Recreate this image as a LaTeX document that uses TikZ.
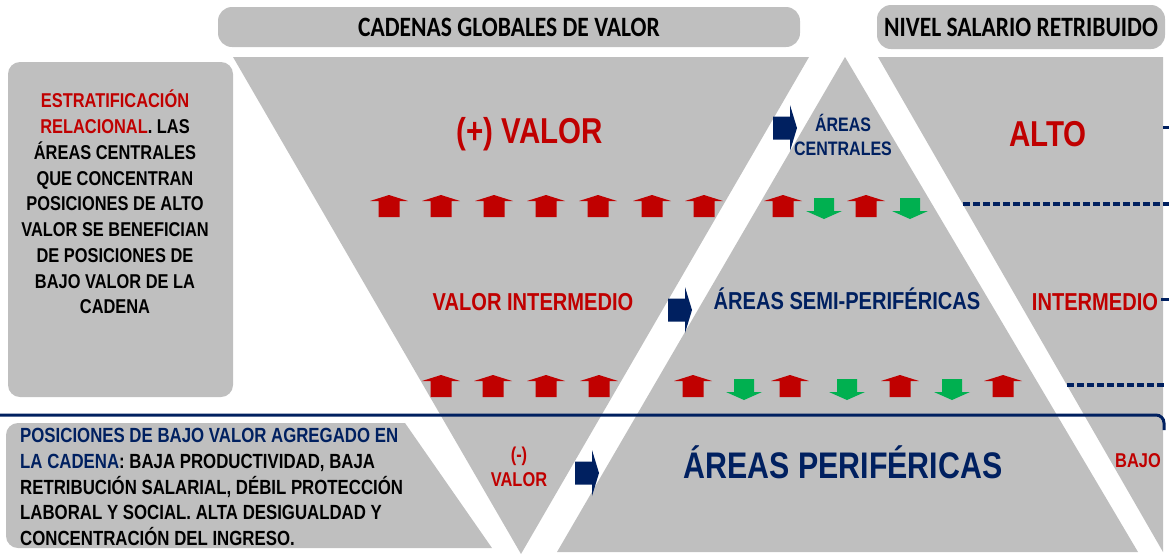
\documentclass[tikz,border=0pt]{standalone}
\usepackage{fontspec}
\usepackage{xcolor}
\usepackage{tikz}
\usetikzlibrary{positioning}
\newfontfamily\narrowsans[FakeStretch=0.82]{Liberation Sans}
\newfontfamily\headsans[FakeStretch=0.84]{Carlito}
\definecolor{panelgray}{RGB}{191, 191, 191}
\definecolor{chainnavy}{RGB}{0, 32, 96}
\definecolor{valuered}{RGB}{192, 0, 0}
\definecolor{downgreen}{RGB}{0, 176, 80}

\begin{document}
\begin{tikzpicture}[x=1pt, y=-1pt,
    headbox/.style={fill=panelgray, rounded corners=14pt, inner sep=0pt,
        font=\headsans\bfseries\fontsize{28}{30}\selectfont},
    bigtxt/.style={anchor=base, inner sep=0pt, font=\narrowsans\bfseries\fontsize{36}{40}\selectfont},
    midtxt/.style={anchor=base, inner sep=0pt, font=\narrowsans\bfseries\fontsize{24.5}{28}\selectfont},
    smalltxt/.style={inner sep=0pt, font=\narrowsans\bfseries\fontsize{20}{25.75}\selectfont},
    levelline/.style={chainnavy, line width=3.5pt, dash pattern=on 6.5pt off 3.5pt},
    redup/.pic={\fill[valuered] (0,0) -- (19,6) -- (10.5,6) -- (10.5,22) -- (-10.5,22) -- (-10.5,6) -- (-19,6) -- cycle;},
    greendown/.pic={\fill[downgreen] (-10,0) -- (10,0) -- (10,13) -- (18,13) -- (0,21) -- (-18,13) -- (-10,13) -- cycle;},
    navyarrow/.pic={\fill[chainnavy] (0,-11.5) -- (17,-11.5) -- (17,-23) -- (24,0) -- (17,23) -- (17,11.5) -- (0,11.5) -- cycle;}]
    \useasboundingbox (0,0) rectangle (1169,555);

    % Headers
    \node[headbox, minimum width=582pt, minimum height=40pt] (cadenas) at (509,27) {CADENAS GLOBALES DE VALOR};
    \node[headbox, minimum width=288pt, minimum height=44pt] (nivel) at (1021,27) {NIVEL SALARIO RETRIBUIDO};

    % Note box (top left)
    \node[fill=panelgray, rounded corners=12pt, inner sep=0pt, minimum width=225pt, minimum height=335pt] (notabox) at (120.5,229.5) {};
    \node[smalltxt, align=center] (nota) at (115,202) {\textcolor{valuered}{ESTRATIFICACIÓN}\\
        \textcolor{valuered}{RELACIONAL}. LAS\\ ÁREAS CENTRALES\\ QUE CONCENTRAN\\ POSICIONES DE ALTO\\
        VALOR SE BENEFICIAN\\ DE POSICIONES DE\\ BAJO VALOR DE LA\\ CADENA};

    % Value chain (inverted), areas (upright) and salary level
    \fill[panelgray] (233,57) -- (809,57) -- (521,554) -- cycle;
    \fill[panelgray] (845,57) -- (1138,552) -- (557,552) -- cycle;
    \fill[panelgray] (878,57) -- (1163,57) -- (1163,552) -- cycle;

    % Note box (bottom left)
    \fill[panelgray] (405,423) -- (492,548) [rounded corners=12pt] -- (6,548) -- (6,423) [sharp corners] -- cycle;
    \node[smalltxt, align=left, anchor=north west, font=\narrowsans\bfseries\fontsize{20.5}{25.75}\selectfont] (bajonota) at (20,428)
        {\textcolor{chainnavy}{POSICIONES DE BAJO VALOR AGREGADO EN}\\
        \textcolor{chainnavy}{LA CADENA}: BAJA PRODUCTIVIDAD, BAJA\\
        RETRIBUCIÓN SALARIAL, DÉBIL PROTECCIÓN\\
        LABORAL Y SOCIAL. ALTA DESIGUALDAD Y\\
        CONCENTRACIÓN DEL INGRESO.};

    % Levels of value
    \node[bigtxt, valuered] (masvalor) at (530,143) {(+) VALOR};
    \node[midtxt, valuered] (medvalor) at (533,310) {VALOR INTERMEDIO};
    \node[smalltxt, valuered, align=center, font=\narrowsans\bfseries\fontsize{20}{25}\selectfont] (menosvalor) at (519,467) {(-)\\ VALOR};

    % Areas
    \node[smalltxt, chainnavy, align=center, font=\narrowsans\bfseries\fontsize{19.5}{24}\selectfont] (centrales) at (843,135) {ÁREAS\\ CENTRALES};
    \node[midtxt, chainnavy] (semiper) at (847,309) {ÁREAS SEMI-PERIFÉRICAS};
    \node[bigtxt, chainnavy, font=\narrowsans\bfseries\fontsize{37}{40}\selectfont] (perifericas) at (843,478) {ÁREAS PERIFÉRICAS};

    % Salary
    \node[bigtxt, valuered] (alto) at (1048,146) {ALTO};
    \node[midtxt, valuered] (intermedio) at (1095,310) {INTERMEDIO};
    \node[smalltxt, valuered, anchor=base] (bajo) at (1138,467) {BAJO};

    % Block arrows towards the areas
    \pic at (773,128) {navyarrow};
    \pic at (668,310) {navyarrow};
    \pic at (575,473) {navyarrow};

    % Transfers of value
    \foreach \x in {389,441,494,546,598,652,704,783,866}
        \pic at (\x,195) {redup};
    \foreach \x in {824,910}
        \pic at (\x,198) {greendown};
    \foreach \x in {441,493,546,599,693,790,900,1003}
        \pic at (\x,375) {redup};
    \foreach \x in {744,847,952}
        \pic at (\x,379) {greendown};

    % Level lines
    \draw[levelline] (963,204) -- (1169,204);
    \draw[levelline] (1067,385) -- (1165,385);
    \draw[chainnavy, line width=3pt] (1163,127) -- (1169,127);
    \draw[chainnavy, line width=3pt] (1161,299) -- (1169,299);
    \draw[chainnavy, line width=3pt, rounded corners=8pt] (0,415) -- (1164,415) -- (1164,430);
\end{tikzpicture}
\end{document}
